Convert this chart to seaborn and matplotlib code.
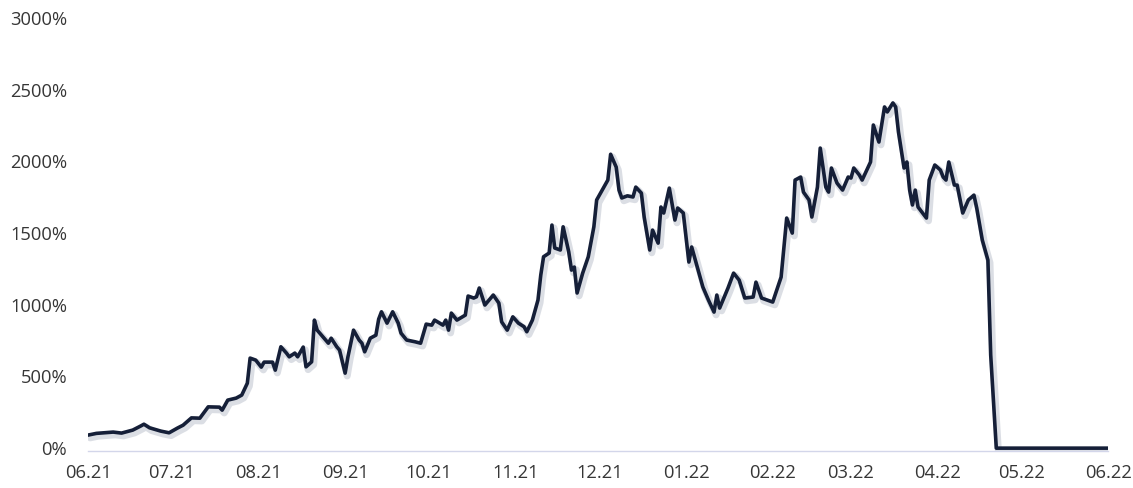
import matplotlib
matplotlib.use("Agg")
import matplotlib.pyplot as plt
import matplotlib.dates as mdates
import matplotlib.patheffects as pe
import matplotlib.ticker as mticker
import seaborn as sns
import pandas as pd

dates = [
    "2021-06-01", "2021-06-04", "2021-06-10", "2021-06-13", "2021-06-17", "2021-06-20", "2021-06-21",
    "2021-06-23", "2021-06-27", "2021-06-30", "2021-07-03", "2021-07-05", "2021-07-08", "2021-07-11",
    "2021-07-14", "2021-07-18", "2021-07-19", "2021-07-21", "2021-07-24", "2021-07-26", "2021-07-28",
    "2021-07-29", "2021-07-31", "2021-08-02", "2021-08-03", "2021-08-06", "2021-08-07", "2021-08-09",
    "2021-08-11", "2021-08-12", "2021-08-14", "2021-08-15", "2021-08-17", "2021-08-18", "2021-08-20",
    "2021-08-21", "2021-08-22", "2021-08-24", "2021-08-26", "2021-08-27", "2021-08-29", "2021-08-30",
    "2021-09-01", "2021-09-02", "2021-09-04", "2021-09-06", "2021-09-07", "2021-09-08", "2021-09-10",
    "2021-09-12", "2021-09-13", "2021-09-14", "2021-09-16", "2021-09-18", "2021-09-20", "2021-09-21",
    "2021-09-23", "2021-09-26", "2021-09-28", "2021-09-30", "2021-10-02", "2021-10-03", "2021-10-06",
    "2021-10-07", "2021-10-08", "2021-10-09", "2021-10-11", "2021-10-14", "2021-10-15", "2021-10-17",
    "2021-10-18", "2021-10-19", "2021-10-21", "2021-10-22", "2021-10-24", "2021-10-26", "2021-10-27",
    "2021-10-29", "2021-10-31", "2021-11-02", "2021-11-04", "2021-11-05", "2021-11-07", "2021-11-09",
    "2021-11-10", "2021-11-11", "2021-11-13", "2021-11-14", "2021-11-15", "2021-11-17", "2021-11-18",
    "2021-11-20", "2021-11-21", "2021-11-22", "2021-11-23", "2021-11-25", "2021-11-27", "2021-11-29",
    "2021-11-30", "2021-12-02", "2021-12-04", "2021-12-05", "2021-12-07", "2021-12-08", "2021-12-09",
    "2021-12-11", "2021-12-13", "2021-12-14", "2021-12-16", "2021-12-17", "2021-12-19", "2021-12-20",
    "2021-12-22", "2021-12-23", "2021-12-24", "2021-12-26", "2021-12-28", "2021-12-29", "2021-12-31",
    "2022-01-02", "2022-01-03", "2022-01-05", "2022-01-07", "2022-01-09", "2022-01-11", "2022-01-12",
    "2022-01-13", "2022-01-16", "2022-01-18", "2022-01-20", "2022-01-22", "2022-01-25", "2022-01-26",
    "2022-01-28", "2022-01-30", "2022-02-01", "2022-02-04", "2022-02-06", "2022-02-08", "2022-02-09",
    "2022-02-11", "2022-02-12", "2022-02-14", "2022-02-15", "2022-02-17", "2022-02-18", "2022-02-20",
    "2022-02-21", "2022-02-22", "2022-02-24", "2022-02-26", "2022-02-28", "2022-03-01", "2022-03-02",
    "2022-03-04", "2022-03-05", "2022-03-08", "2022-03-09", "2022-03-11", "2022-03-13", "2022-03-14",
    "2022-03-16", "2022-03-17", "2022-03-18", "2022-03-20", "2022-03-21", "2022-03-22", "2022-03-23",
    "2022-03-24", "2022-03-25", "2022-03-28", "2022-03-29", "2022-03-31", "2022-04-02", "2022-04-03",
    "2022-04-04", "2022-04-05", "2022-04-07", "2022-04-08", "2022-04-10", "2022-04-12", "2022-04-14",
    "2022-04-15", "2022-04-17", "2022-04-19", "2022-04-20", "2022-04-22", "2022-05-01", "2022-05-15",
    "2022-06-01",
]

values = [
    91, 103, 112, 105, 126, 156, 167,
    142, 119, 107, 140, 160, 211, 209,
    288, 286, 265, 335, 349, 370, 453,
    628, 614, 565, 600, 600, 544, 707,
    663, 637, 663, 637, 705, 567, 602,
    893, 823, 777, 732, 767, 707, 684,
    523, 637, 823, 754, 732, 672, 767,
    788, 900, 951, 872, 951, 872, 802,
    754, 742, 732, 865, 858, 893, 858,
    893, 823, 942, 893, 928, 1061, 1047,
    1056, 1117, 998, 1021, 1068, 1012, 881,
    823, 916, 872, 847, 812, 893, 1033,
    1207, 1335, 1361, 1556, 1396, 1382, 1544,
    1370, 1242, 1263, 1082, 1221, 1335, 1544,
    1731, 1800, 1870, 2050, 1960, 1800, 1745,
    1760, 1752, 1821, 1779, 1612, 1382, 1521,
    1430, 1682, 1640, 1814, 1591, 1675, 1640,
    1298, 1403, 1263, 1124, 1033, 949, 1068,
    977, 1117, 1221, 1172, 1047, 1054, 1158,
    1047, 1033, 1019, 1193, 1605, 1500, 1870,
    1891, 1786, 1731, 1612, 1821, 2093, 1821,
    1786, 1954, 1849, 1800, 1891, 1884, 1954,
    1905, 1870, 1996, 2254, 2135, 2380, 2345,
    2408, 2380, 2205, 1954, 1996, 1800, 1696,
    1800, 1682, 1605, 1870, 1975, 1940, 1891,
    1870, 1996, 1835, 1835, 1640, 1731, 1765,
    1675, 1451, 1312, 650, 0, 0, 0,
    0,
]

y_ticks = [0, 500, 1000, 1500, 2000, 2500, 3000]
x_ticks = ["2021-06-01", "2021-07-01", "2021-08-01", "2021-09-01", "2021-10-01", "2021-11-01",
           "2021-12-01", "2022-01-01", "2022-02-01", "2022-03-01", "2022-04-01", "2022-05-01",
           "2022-06-01"]

df = pd.DataFrame({"date": pd.to_datetime(dates), "value": values})

sns.set_theme(style="white")
plt.rcParams["font.family"] = ["Open Sans", "DejaVu Sans"]

fig = plt.figure(figsize=(11.33, 4.88), dpi=100)
ax = fig.add_axes([0.0777, 0.0758, 0.9003, 0.8872])

line_color = "#151f38"
sns.lineplot(data=df, x="date", y="value", ax=ax, color=line_color, linewidth=2.6,
             path_effects=[pe.SimpleLineShadow(offset=(1.5, -2.0), shadow_color="#8a93a8", alpha=0.3,
                                               linewidth=5),
                           pe.Normal()])

ax.set_xlim(pd.Timestamp("2021-06-01"), pd.Timestamp("2022-06-01"))
ax.set_ylim(-20, 3000)
ax.set_yticks(y_ticks)
ax.yaxis.set_major_formatter(mticker.FuncFormatter(lambda v, p: f"{int(v)}%"))
ax.set_xticks(pd.to_datetime(x_ticks))
ax.xaxis.set_major_formatter(mdates.DateFormatter("%m.%y"))

for s in ["top", "right", "left"]:
    ax.spines[s].set_visible(False)
ax.spines["bottom"].set_color("#d3d6ea")
ax.spines["bottom"].set_linewidth(1.0)

ax.tick_params(axis="y", length=0, pad=15, labelsize=13.2, labelcolor="#363636")
ax.tick_params(axis="x", length=5, width=1, color="#d3d6ea", pad=7, labelsize=13.2,
               labelcolor="#363636", direction="inout")
ax.set_xlabel("")
ax.set_ylabel("")
ax.grid(False)

fig.savefig("out.png", dpi=100, facecolor="white")
